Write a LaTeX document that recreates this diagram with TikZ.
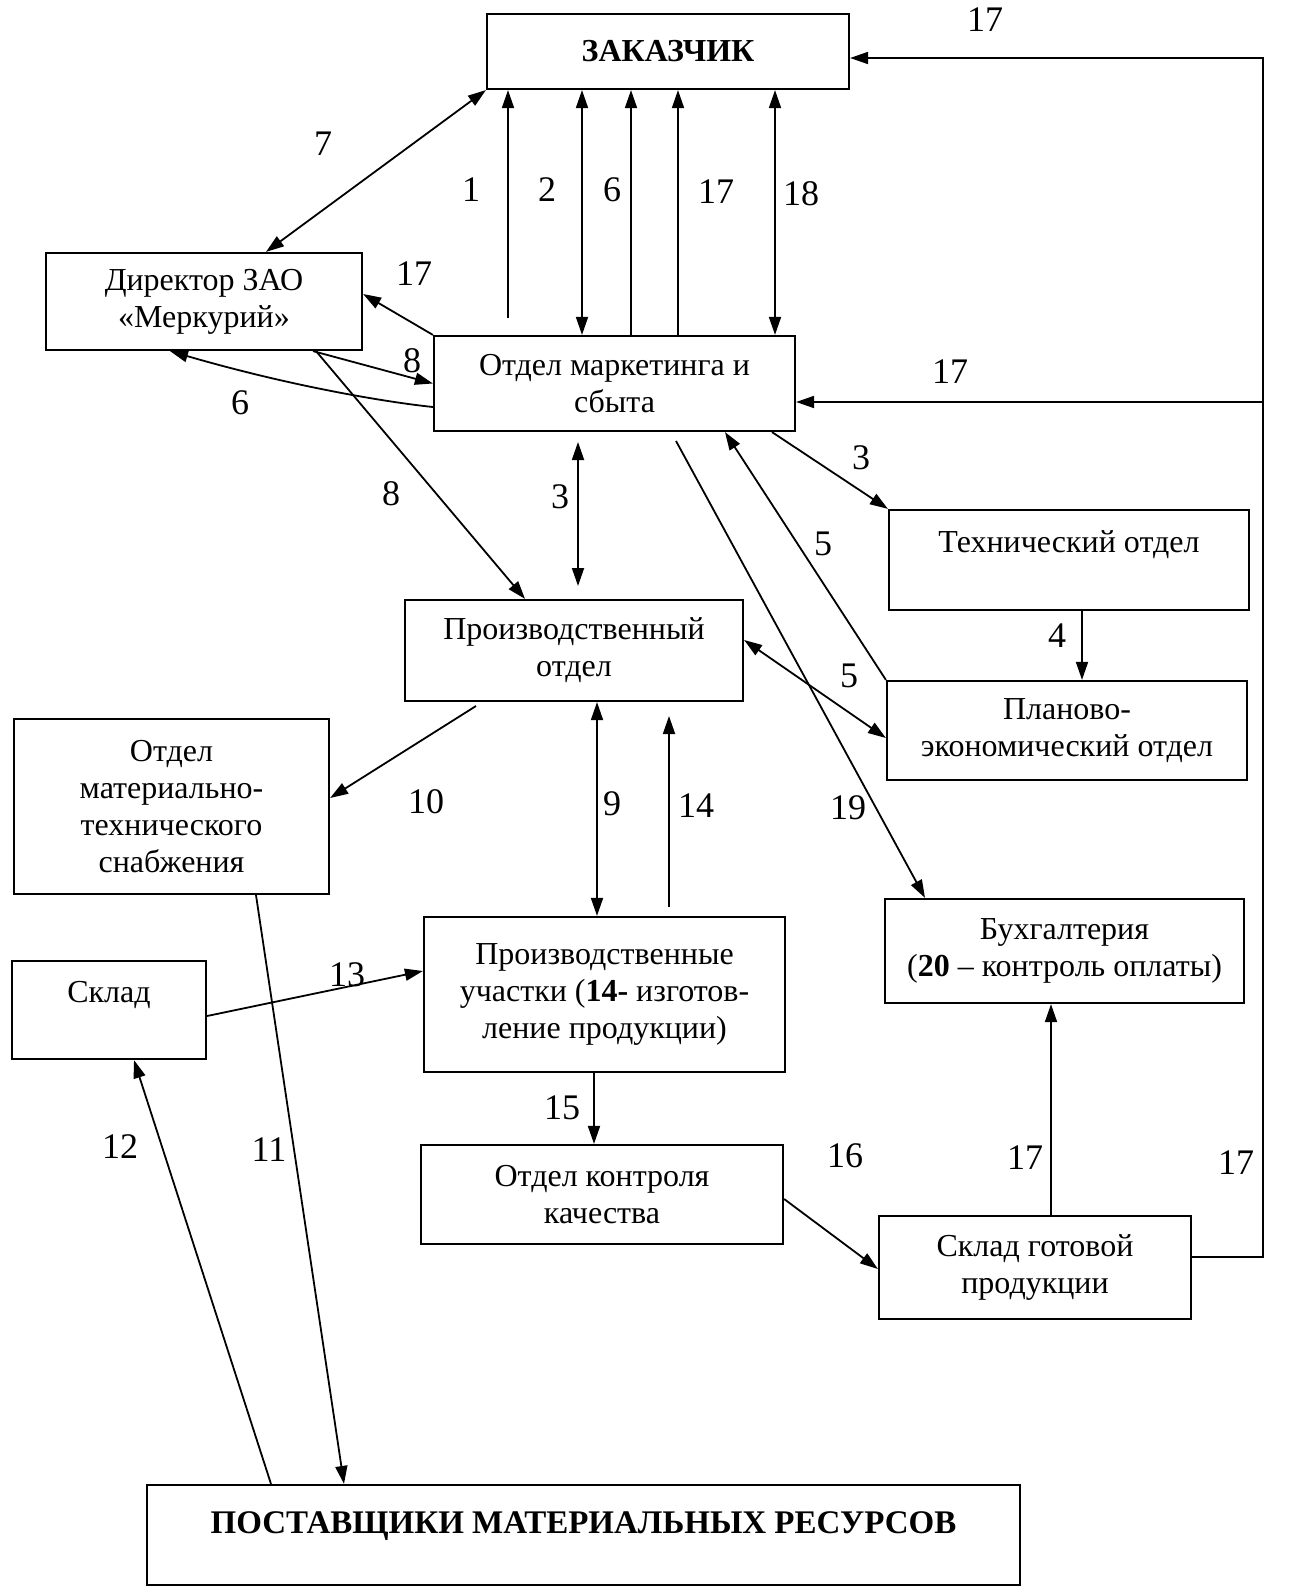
\documentclass[tikz,border=0pt]{standalone}
\usepackage{fontspec}
\setmainfont{Liberation Serif}
\usetikzlibrary{arrows.meta}
\begin{document}
\begin{tikzpicture}[x=0.5pt,y=-0.5pt,
  box/.style={draw,line width=1.1pt,inner sep=0pt,align=center,
    font=\fontsize{16}{18.5}\selectfont},
  lbl/.style={inner sep=0pt,font=\fontsize{18}{20}\selectfont},
  arr/.style={line width=0.9pt,-{Triangle[length=9pt,width=6pt]}},
  darr/.style={line width=0.9pt,{Triangle[length=9pt,width=6pt]}-{Triangle[length=9pt,width=6pt]}},
  ln/.style={line width=0.9pt}]
\useasboundingbox (0,0) rectangle (1290,1589);
% boxes
\node[box,minimum width=181pt,minimum height=37.5pt] (zak) at (668,51.5) {\textbf{ЗАКАЗЧИК}};
\node[box,minimum width=158pt,minimum height=48.5pt] (dir) at (204,301.5) {Директор ЗАО\\«Меркурий»};
\node[box,minimum width=180.5pt,minimum height=47.5pt] (mkt) at (614.5,383.5) {Отдел маркетинга и\\сбыта};
\node[box,minimum width=180pt,minimum height=50pt] (tech) at (1069,560) {Технический отдел\\\mbox{}};
\node[box,minimum width=169pt,minimum height=50.5pt] (prod) at (574,650.5) {Производственный\\отдел};
\node[box,minimum width=180pt,minimum height=49.5pt] (plan) at (1067,730.5) {Планово-\\экономический отдел};
\node[box,minimum width=157.5pt,minimum height=87.5pt] (mts) at (171.5,806.5) {Отдел\\материально-\\технического\\снабжения};
\node[box,minimum width=180.5pt,minimum height=77.5pt] (uch) at (604.5,994.5) {Производственные\\участки (\textbf{14-} изготов-\\ление продукции)};
\node[box,minimum width=179.5pt,minimum height=52pt] (buh) at (1064.5,951) {Бухгалтерия\\(\textbf{20} – контроль оплаты)};
\node[box,minimum width=97pt,minimum height=49pt] (sklad) at (109,1010) {Склад\\\mbox{}};
\node[box,minimum width=181pt,minimum height=49.5pt] (okk) at (602,1194.5) {Отдел контроля\\качества};
\node[box,minimum width=156pt,minimum height=51.5pt] (sgp) at (1035,1267.5) {Склад готовой\\продукции};
\node[box,minimum width=436.5pt,minimum height=50pt,text depth=12pt,font=\fontsize{16.5}{18.5}\selectfont] (post) at (583.5,1535) {\textbf{ПОСТАВЩИКИ МАТЕРИАЛЬНЫХ РЕСУРСОВ}};
% free-end coordinates
\coordinate (a1) at (508,318);
\coordinate (a3top) at (578,442);
\coordinate (a3bot) at (578,586);
\coordinate (a19) at (676,441);
\coordinate (a10) at (476,706);
\coordinate (a14bot) at (669,907);
\coordinate (a14top) at (669,716);
\coordinate (loopTop) at (1263,58);
\coordinate (br) at (1263,402);
% connectors
\draw[darr] (dir.north -| 266,0) -- (zak.south west);
\draw[arr] (a1) -- (zak.south -| a1);
\draw[darr] (mkt.north -| 582,0) -- (zak.south -| 582,0);
\draw[arr] (mkt.north -| 631,0) -- (zak.south -| 631,0);
\draw[arr] (mkt.north -| 678,0) -- (zak.south -| 678,0);
\draw[darr] (mkt.north -| 775,0) -- (zak.south -| 775,0);
\draw[arr] (mkt.north west) -- (dir.east |- 0,294);
\draw[arr] (dir.south -| 313,0) -- (mkt.west);
\draw[arr] (mkt.west |- 0,407) .. controls (385,402) and (290,386) .. (dir.south -| 170,0);
\draw[arr] (dir.south -| 316,0) -- (prod.north -| 525,0);
\draw[darr] (a3top) -- (a3bot);
\draw[arr] (mkt.south -| 772,0) -- (tech.north west);
\draw[arr] (plan.north west) -- (mkt.south -| 725,0);
\draw[arr] (tech.south -| 1082,0) -- (plan.north -| 1082,0);
\draw[darr] (prod.east |- 0,640) -- (plan.west |- 0,738);
\draw[arr] (a19) -- (buh.north -| 925,0);
\draw[arr] (a10) -- (mts.east |- 0,798);
\draw[darr] (prod.south -| 597,0) -- (uch.north -| 597,0);
\draw[arr] (a14bot) -- (a14top);
\draw[arr] (sklad.east |- 0,1016) -- (uch.west |- 0,971);
\draw[arr] (mts.south -| 256,0) -- (post.north -| 344,0);
\draw[arr] (post.north -| 271,0) -- (sklad.south -| 134,0);
\draw[arr] (uch.south -| 594,0) -- (okk.north -| 594,0);
\draw[arr] (okk.east |- 0,1199) -- (sgp.west |- 0,1269);
\draw[arr] (sgp.north -| 1051,0) -- (buh.south -| 1051,0);
\draw[arr] (sgp.east |- 0,1257) -| (loopTop) -- (zak.east |- loopTop);
\draw[arr] (br) -- (mkt.east |- br);
% labels
\node[lbl] (l7) at (323,144) {7};
\node[lbl] (l1) at (471,190) {1};
\node[lbl] (l2) at (547,190) {2};
\node[lbl] (l6a) at (612,190) {6};
\node[lbl] (l17a) at (716,192) {17};
\node[lbl] (l18) at (801,194) {18};
\node[lbl] (l17b) at (414,274) {17};
\node[lbl] (l8a) at (412,361) {8};
\node[lbl] (l6b) at (240,403) {6};
\node[lbl] (l8b) at (391,494) {8};
\node[lbl] (l3a) at (560,497) {3};
\node[lbl] (l3b) at (861,458) {3};
\node[lbl] (l5a) at (823,544) {5};
\node[lbl] (l4) at (1057,636) {4};
\node[lbl] (l5b) at (849,676) {5};
\node[lbl] (l19) at (848,808) {19};
\node[lbl] (l10) at (426,802) {10};
\node[lbl] (l9) at (612,804) {9};
\node[lbl] (l14) at (696,806) {14};
\node[lbl] (l13) at (347,975) {13};
\node[lbl] (l11) at (269,1150) {11};
\node[lbl] (l12) at (120,1147) {12};
\node[lbl] (l15) at (562,1108) {15};
\node[lbl] (l16) at (845,1156) {16};
\node[lbl] (l17c) at (1025,1158) {17};
\node[lbl] (l17d) at (985,20) {17};
\node[lbl] (l17e) at (950,372) {17};
\node[lbl] (l17f) at (1236,1163) {17};
\end{tikzpicture}
\end{document}
